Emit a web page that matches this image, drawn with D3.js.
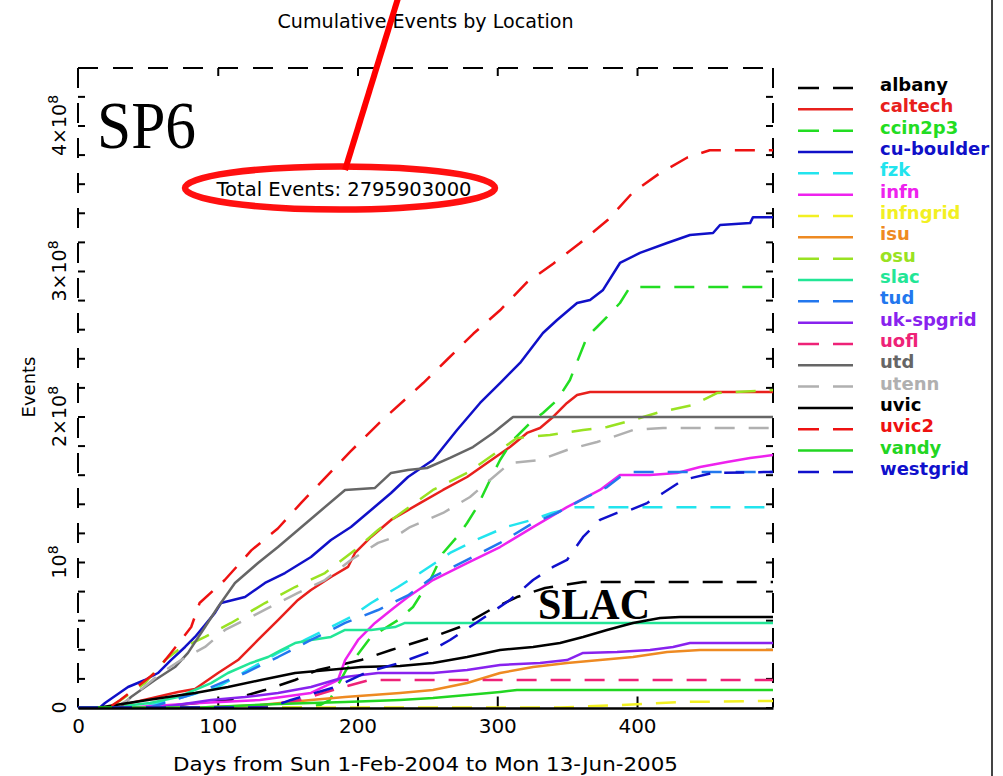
<!DOCTYPE html>
<html><head><meta charset="utf-8">
<script src="https://cdn.jsdelivr.net/npm/d3@7"></script>
<style>body{margin:0;background:#fff}svg{display:block}</style>
</head><body>
<svg id="c" width="1003" height="776"></svg>
<script>
// ---- data: [day, millions of events] ----
const albany = [[0,0],[51.5,0],[108.8,5.2],[133.8,12],[155.3,18.9],[171.7,25.8],[202.5,32.6],[224,39.5],[254,48.5],[273.3,55.3],[294.8,67],[314.1,75.9],[334.2,82.1],[361.4,86.3],[497.3,86.3]];
const caltech = [[0,0],[19.3,0],[37.2,3],[71.6,10.7],[83.7,12.7],[100.2,23.7],[114.5,32.6],[128.8,46.4],[143.1,60.1],[157.4,73.9],[166.7,80.8],[181,89.7],[193.2,96.6],[198.2,106.2],[209.7,117.2],[224,128.9],[236.1,135.7],[244.7,140.5],[261.2,149.5],[278.4,158.4],[292.7,168],[309.1,179],[321.3,188.7],[330.6,192.1],[339.9,199.7],[349.9,209.3],[357.1,214.8],[366.4,216.8],[497.3,216.8]];
const ccin2p3 = [[0,0],[158.9,0],[173.2,1.7],[180,5],[192,26],[209.7,48.5],[229,60.1],[239.7,69.1],[252,87.6],[261.2,106.2],[271.2,117.2],[278.4,126.8],[285.5,137.7],[294.8,156.4],[302,170.1],[311.3,183.8],[323.4,195.5],[332.7,202.4],[342.8,211.3],[352,225.1],[364.2,254.6],[371.4,261.5],[378.5,268.4],[387.8,278],[395,289],[497.3,289]];
const cuBoulder = [[0,0],[15.7,0],[19.3,3.1],[35.8,14.1],[47.9,18.9],[57.2,23.7],[66.5,32.6],[76.6,41.6],[83.7,48.5],[98,65],[102.3,71.8],[119.5,75.9],[133.8,85.6],[148.1,92.4],[166.7,103.4],[181,115.1],[195.3,124],[209.7,135.7],[224,147.4],[236.1,158.4],[254,170.1],[271.2,190.7],[287.7,209.3],[302,223],[316.3,236.8],[332.7,257.4],[342.8,266.3],[357.1,278],[366.4,280.1],[375.7,287],[387.8,305.5],[402.1,312.4],[421.5,319.2],[437.9,324.7],[454.4,326.1],[459.4,331.6],[480.9,332.9],[483,337],[497.3,337]];
const fzk = [[0,0],[44.4,0],[73,6.5],[100.2,14.1],[121.6,25.8],[143.1,37.5],[162.4,46.4],[181,55.3],[195.3,62.2],[209.7,71.8],[229,82.8],[244.7,92.4],[266.2,106.2],[284.7,115.1],[306.1,124],[324.7,128.9],[339,133.7],[356.1,137.7],[497.3,137.7]];
const infn = [[0,0],[37.2,0],[87.3,3.1],[130.2,5.2],[166.7,10],[186,18.9],[191.1,32.6],[200.4,46.4],[212.5,58.1],[226.8,69.1],[236.1,75.9],[254,87.6],[278.4,99.3],[302,110.3],[325.6,124],[349.9,137.7],[373.5,149.5],[387.8,159.8],[409.3,159.8],[428.6,161.2],[445.1,165.3],[464.4,168.7],[480.9,171.5],[497.3,173.5]];
const infngrid = [[0,0],[345,0],[387.8,1.7],[430.8,3.8],[497.3,4.5]];
const isu = [[0,0],[87.3,0],[130.2,1.7],[166.7,5.2],[191.1,7.2],[230.4,10],[254,12],[278.4,16.8],[302,23.7],[325.6,27.8],[349.9,30.6],[373.5,32.6],[397.1,34.7],[421.5,38.1],[445.1,39.5],[497.3,39.5]];
const osu = [[0,0],[22.9,0],[47.9,16.8],[62.3,32.6],[71.6,39.5],[90.9,48.5],[109.5,58.1],[133.8,71.8],[155.3,82.8],[176.7,92.4],[198.2,108.2],[214.7,122],[231.1,133.7],[254,149.5],[278.4,161.2],[302,177],[314.1,185.2],[337.7,187.3],[361.4,190.7],[378.5,192.8],[397.1,197.6],[416.5,203.1],[440.1,207.9],[457.2,216.1],[497.3,218.2]];
const slac = [[0,0],[22.9,0],[51.5,3.1],[71.6,7.2],[95.2,16.8],[107.3,23.7],[123.8,30.6],[136,34.7],[145.3,39.5],[155.3,44.3],[166.7,46.4],[181,48.5],[191.1,53.3],[209.7,53.3],[226.8,55.3],[234,58.1],[497.3,58.1]];
const tud = [[0,0],[51.5,0],[87.3,10.7],[119.5,23.7],[143.1,34.7],[166.7,46.4],[191.1,58.1],[214.7,67],[236.1,77],[254,89.7],[278.4,101.4],[302,113.1],[325.6,126.8],[342.8,133.7],[364.2,144.7],[378.5,151.5],[387.8,158.4],[397.1,161.9],[497.3,161.9]];
const ukSpgrid = [[0,0],[58.7,0],[95.2,5.2],[119.5,7.2],[143.1,10],[166.7,14.1],[191.1,21],[214.7,23.7],[254,23.7],[278.4,25.8],[302,29.2],[330.6,30.6],[349.9,32.6],[361.4,37.5],[385.7,38.1],[409.3,39.5],[425.8,41.6],[437.9,44.3],[497.3,44.3]];
const uofl = [[0,0],[123,0],[158.9,5.2],[187.5,13.4],[208.4,18.9],[497.3,18.9]];
const utd = [[0,0],[30,0],[37.9,7.2],[55.1,18.9],[69.4,27.8],[78.7,37.5],[90.9,55.3],[100.2,69.1],[112.3,85.6],[128.8,99.3],[143.1,110.3],[157.4,122],[171.7,133.7],[191.1,149.5],[212.5,150.9],[224,161.2],[236.1,163.2],[249.7,164.6],[266.2,171.5],[282.6,179],[297,188.7],[311.3,199.7],[497.3,199.7]];
const utenn = [[0,0],[26.5,0],[35.8,5.2],[59.4,23.7],[73.7,32.6],[90.9,41.6],[105.2,53.3],[123.8,62.2],[143.1,71.8],[157.4,78.7],[176.7,87.6],[195.3,101.4],[214.7,113.1],[226.8,117.2],[237.6,124],[261.2,133.7],[280.5,144.7],[294.8,156.4],[309.1,168],[330.6,170.1],[349.9,177],[371.4,182.5],[382.8,185.9],[397.1,190.7],[418.6,192.1],[497.3,192.1]];
const uvic = [[0,0],[15.7,0],[35.8,3.1],[59.4,6.5],[83.7,10],[107.3,14.1],[130.9,18.9],[155.3,23.7],[178.9,25.8],[202.5,27.8],[230.4,28.5],[254,30.6],[278.4,34.7],[302,39.5],[325.6,41.6],[344.9,44.3],[361.4,48.5],[378.5,53.3],[397.1,58.1],[416.5,61.5],[430.8,62.2],[497.3,62.2]];
const uvic2 = [[0,0],[22,0],[30,5],[55,23.7],[66.5,37.5],[81,55.3],[87,71.8],[105,87.6],[124,108],[143,123],[160,141],[177,158],[195,176],[216,196],[247,223],[264,239],[283,257],[302,273],[321,292],[340,305],[359,319],[379,335],[397,354],[416,367],[436,378],[452,383],[497.3,383]];
const vandy = [[0,0],[87.3,0],[143.1,2.4],[191.1,3.8],[230.4,5.2],[254,6.5],[278.4,8.6],[302,10.7],[314.1,12],[497.3,12]];
const westgrid = [[0,0],[137.4,0],[152.4,5.2],[177,12],[184,14],[207,24.4],[230,30.6],[249.7,37.5],[266.2,46.4],[284.7,58.1],[309.1,73.9],[325.6,87.6],[339.9,96.6],[349.9,101.4],[361.4,117.2],[373.5,128.9],[385.7,133.7],[395,135.7],[407.2,140.5],[418.6,147.4],[432.9,156.4],[454.4,161.2],[497.3,161.9]];

const locations = ["albany","caltech","ccin2p3","cu-boulder","fzk","infn","infngrid","isu","osu","slac","tud","uk-spgrid","uofl","utd","utenn","uvic","uvic2","vandy","westgrid"];
const seriesColors = ["#000000","#e8201c","#22dd22","#1010c8","#22e4ee","#ee22ee","#f2f022","#ee8a22","#99e222","#22e696","#2277ee","#8822ee","#ee2277","#666666","#b0b0b0","#000000","#ee1111","#22d622","#1010cc"];
const seriesDashed = [true,false,true,false,true,false,true,false,true,false,true,false,true,false,true,false,true,false,true];
const seriesData = [albany,caltech,ccin2p3,cuBoulder,fzk,infn,infngrid,isu,osu,slac,tud,ukSpgrid,uofl,utd,utenn,uvic,uvic2,vandy,westgrid];

const xTicks = [0,100,200,300,400];
const yTicks = [0,100,200,300,400];               // millions
const yTickLabels = [["0",""],["10","8"],["2×10","8"],["3×10","8"],["4×10","8"]];
const titleText = "Cumulative Events by Location";
const xLabel = "Days from Sun 1-Feb-2004 to Mon 13-Jun-2005";
const yLabel = "Events";
const totalText = "Total Events: 2795903000";

// ---- drawing ----
const FONT = "DejaVu Sans";
const svg = d3.select("#c");
svg.append("rect").attr("width",1003).attr("height",776).attr("fill","#fff");

const x = d3.scaleLinear().domain([0, 497.3]).range([78, 773]);
const y = d3.scaleLinear().domain([0, 439.5]).range([707.5, 68]);
const [x0,x1] = x.range(), [y0,y1] = y.range();
const DASH = "20,15";

// frame (dashed axes like the original)
const frame = svg.append("g").attr("stroke","#000").attr("stroke-width",2).attr("fill","none");
frame.append("line").attr("x1",x0).attr("x2",x1).attr("y1",y1).attr("y2",y1).attr("stroke-dasharray",DASH);
frame.append("line").attr("x1",x0).attr("x2",x0).attr("y1",y1).attr("y2",y0).attr("stroke-dasharray",DASH);
frame.append("line").attr("x1",x1).attr("x2",x1).attr("y1",y1).attr("y2",y0).attr("stroke-dasharray",DASH);

// minor/major ticks via d3 axes
const minor = d3.range(0, 440, 20);
const tickStyle = g => { g.select(".domain").remove(); g.selectAll("text").remove(); g.selectAll("line").attr("stroke","#000").attr("stroke-width",2); };
svg.append("g").attr("transform",`translate(${x0},0)`).call(d3.axisRight(y).tickValues(minor).tickSize(7).tickFormat("")).call(tickStyle);
svg.append("g").attr("transform",`translate(${x1},0)`).call(d3.axisLeft(y).tickValues(minor).tickSize(7).tickFormat("")).call(tickStyle);
svg.append("g").attr("transform",`translate(0,${y1})`).call(d3.axisBottom(x).tickValues(xTicks.slice(1)).tickSize(8).tickFormat("")).call(tickStyle);
svg.append("g").attr("transform",`translate(0,${y0})`).call(d3.axisTop(x).tickValues(xTicks.slice(1)).tickSize(11).tickFormat("")).call(tickStyle);

// series
const line = d3.line().x(d => x(d[0])).y(d => y(d[1]));
const lines = svg.append("g").attr("fill","none");
seriesData.forEach((s,i) => {
  lines.append("path").datum(s).attr("d",line)
    .attr("stroke",seriesColors[i]).attr("stroke-width",2.5)
    .attr("stroke-linejoin","round")
    .attr("stroke-dasharray",seriesDashed[i] ? "20,14" : null);
});

// bottom axis (solid) with labels
const xAxis = svg.append("g").attr("transform",`translate(0,${y0+0.5})`)
  .call(d3.axisBottom(x).tickValues(xTicks).tickSize(0).tickPadding(11).tickFormat(d3.format("d")));
xAxis.select(".domain").attr("stroke","#000").attr("stroke-width",2.5);
xAxis.selectAll("text").attr("font-family",FONT).attr("font-size",20).attr("fill","#000");

// y tick labels (rotated, with superscripts)
yTicks.forEach((v,i) => {
  const t = svg.append("text").attr("transform",`translate(66,${y(v)}) rotate(-90)`)
    .attr("text-anchor","middle").attr("font-family",FONT).attr("font-size",19).attr("fill","#000");
  t.append("tspan").text(yTickLabels[i][0]);
  if (yTickLabels[i][1]) t.append("tspan").attr("dy",-8).attr("font-size",14).text(yTickLabels[i][1]);
});

// titles
svg.append("text").attr("x",(x0+x1)/2).attr("y",28).attr("text-anchor","middle")
  .attr("font-family",FONT).attr("font-size",19).attr("textLength",296).attr("lengthAdjust","spacingAndGlyphs")
  .attr("fill","#000").text(titleText);
svg.append("text").attr("x",(x0+x1)/2).attr("y",771).attr("text-anchor","middle")
  .attr("font-family",FONT).attr("font-size",20).attr("textLength",505).attr("lengthAdjust","spacingAndGlyphs")
  .attr("fill","#000").text(xLabel);
svg.append("text").attr("transform","translate(35,387) rotate(-90)").attr("text-anchor","middle")
  .attr("font-family",FONT).attr("font-size",18).attr("fill","#000").text(yLabel);

// legend
const leg = svg.append("g");
locations.forEach((name,i) => {
  const by = 91 + i*21.33;
  leg.append("line").attr("x1",798).attr("x2",853).attr("y1",by-3).attr("y2",by-3)
    .attr("stroke",seriesColors[i]).attr("stroke-width",2.5)
    .attr("stroke-dasharray",seriesDashed[i] ? "21,14" : null);
  leg.append("text").attr("x",880).attr("y",by).attr("font-family",FONT).attr("font-weight","bold")
    .attr("font-size",18).attr("fill",seriesColors[i]).text(name);
});

// slide border on the right
svg.append("line").attr("x1",992).attr("x2",992).attr("y1",0).attr("y2",776).attr("stroke","#444").attr("stroke-width",2);

// annotations
svg.append("text").attr("x",97).attr("y",148).attr("font-family","Liberation Serif").attr("font-size",68)
  .attr("textLength",99).attr("lengthAdjust","spacingAndGlyphs").attr("fill","#000").text("SP6");
svg.append("text").attr("x",538).attr("y",619).attr("font-family","Liberation Serif").attr("font-weight","bold")
  .attr("font-size",44).attr("textLength",112).attr("lengthAdjust","spacingAndGlyphs").attr("fill","#000").text("SLAC");
svg.append("ellipse").attr("cx",340).attr("cy",188).attr("rx",155).attr("ry",21.5)
  .attr("fill","none").attr("stroke","#ff1010").attr("stroke-width",6.5);
svg.append("text").attr("x",344).attr("y",196).attr("text-anchor","middle").attr("font-family",FONT)
  .attr("font-size",19).attr("textLength",255).attr("lengthAdjust","spacingAndGlyphs").attr("fill","#000").text(totalText);
svg.append("line").attr("x1",399).attr("y1",-5).attr("x2",345).attr("y2",170)
  .attr("stroke","#ff0000").attr("stroke-width",6);
</script>
</body></html>
